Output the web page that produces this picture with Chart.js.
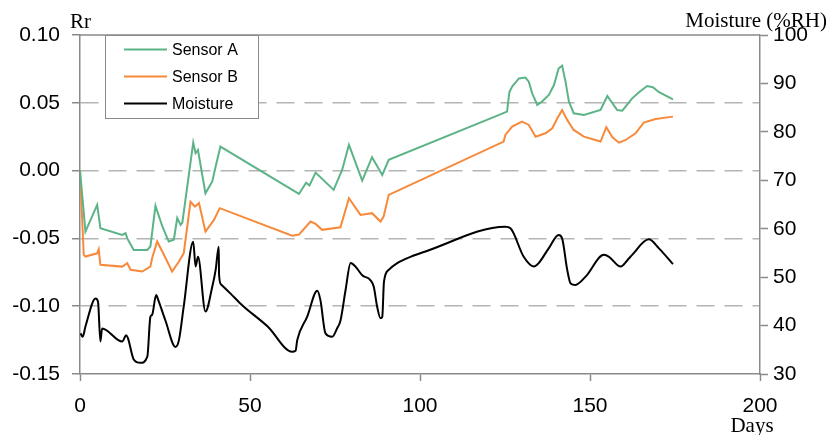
<!DOCTYPE html>
<html>
<head>
<meta charset="utf-8">
<script src="https://cdn.jsdelivr.net/npm/chart.js@4.4.1/dist/chart.umd.min.js"></script>
<style>
  html, body { margin: 0; padding: 0; background: #fff; }
  #wrap { width: 828px; height: 435px; position: relative; }
</style>
</head>
<body>
<div id="wrap"><canvas id="chart"></canvas></div>
<script>
/* ---------------------------------- Data ---------------------------------- */
const daysA = [0, 1.6, 5.05, 6.0, 12.4, 13.4, 13.9, 15.8, 19.8, 20.7, 22.2, 24.2, 26.1, 27.6, 28.6, 29.6, 30.1,
    33.3, 34.0, 34.7, 35.7, 36.9, 38.9, 39.9, 41.3, 64.4, 66.5, 67.5, 69.3, 74.6, 77.1, 79.1, 83.0, 85.9, 88.9,
    90.8, 122.2, 125.6, 126.3, 127.1, 129.1, 131, 132, 133, 134.5, 135.9, 137.9, 139.4, 140.8, 141.8, 142.8,
    143.8, 145.2, 148.2, 153.1, 155.1, 158, 159.5, 162.4, 164.5, 166.8, 168.5, 170.2, 174.4];
const sensorA = [0.0, -0.045, -0.0253, -0.0425, -0.0474, -0.0462, -0.050, -0.0585, -0.0585, -0.056, -0.026,
    -0.041, -0.0523, -0.051, -0.035, -0.040, -0.0383, 0.0206, 0.0128, 0.0152, 0.0005, -0.0167, -0.008, 0.003,
    0.0177, -0.0172, -0.009, -0.011, -0.0015, -0.0142, 0.0005, 0.019, -0.0074, 0.0099, -0.0032, 0.0079, 0.040,
    0.0435, 0.058, 0.062, 0.068, 0.0686, 0.0656, 0.057, 0.0484, 0.0509, 0.0558, 0.0631, 0.0755, 0.0774, 0.0656,
    0.0509, 0.0423, 0.041, 0.0447, 0.055, 0.0447, 0.0442, 0.0533, 0.058, 0.0624, 0.0615, 0.058, 0.0526];

const daysB = [0, 1.1, 1.6, 5.05, 5.5, 6.0, 12.4, 13.9, 14.9, 18.3, 20.7, 21.2, 22.7, 24.2, 27.1, 29.1, 30.5,
    32.5, 33.8, 35.0, 36.9, 39.4, 41.1, 62.4, 64.4, 67.8, 69.3, 71.2, 76.6, 79.1, 82.5, 85.9, 88.4, 89.3, 90.8,
    124.6, 125.1, 127.1, 130, 132, 134, 136.9, 138.9, 140.4, 141.8, 143.3, 145.2, 148.2, 153.1, 154.8, 156.6,
    158.5, 160.5, 163.4, 165.8, 169.3, 174.4];
const sensorB = [0.0, -0.062, -0.0634, -0.061, -0.058, -0.0695, -0.0708, -0.0683, -0.0732, -0.0744, -0.0708,
    -0.0646, -0.0523, -0.0597, -0.0744, -0.067, -0.061, -0.023, -0.0265, -0.024, -0.045, -0.0364, -0.0277,
    -0.048, -0.0472, -0.0376, -0.0393, -0.0437, -0.0418, -0.0204, -0.0327, -0.0314, -0.0376, -0.0339, -0.0179,
    0.0214, 0.0263, 0.0324, 0.0361, 0.0337, 0.025, 0.0275, 0.0312, 0.0386, 0.0447, 0.0374, 0.030, 0.025,
    0.0214, 0.032, 0.0246, 0.0206, 0.0226, 0.0275, 0.0354, 0.0381, 0.0398];

const daysM = [0.15, 0.8, 1.6, 4.6, 5.3, 6.0, 6.5, 12.4, 13.6, 14.1, 15.8, 17.8, 19.8, 20.7, 21.2, 22.4, 23.0,
    25.1, 28.1, 29.1, 30.5, 33.3, 34.0, 34.7, 36.9, 38.9, 39.9, 40.8, 40.9, 41.5, 44.3, 47.7, 55.2, 62.4, 63.4,
    63.9, 66.8, 69.8, 70.7, 72.2, 74.2, 75.6, 76.6, 78.1, 79.6, 81.0, 83.0, 85.4, 86.4, 87.4, 88.4, 88.9, 89.4,
    90.8, 93.3, 97.2, 101.6, 125.1, 126.6, 130.5, 133.5, 134.9, 137.9, 140.8, 141.8, 143.3, 144.3, 145.7, 148.7,
    154.1, 155.6, 159.0, 161.0, 162.4, 167.3, 170.2, 174.4];
const moisture = [38.4, 37.7, 39.8, 45.6, 44.9, 36.7, 39.4, 36.7, 38.0, 37.4, 33.0, 32.3, 33.6, 41.8, 42.2, 46.3,
    45.3, 41.1, 35.6, 37.0, 43.9, 57.3, 52.2, 54.2, 42.9, 48.0, 51.5, 56.3, 50.5, 48.5, 46.6, 44.2, 39.8, 34.6,
    34.8, 37.0, 41.8, 47.2, 45.3, 38.4, 37.7, 39.4, 41.0, 47.3, 52.9, 52.2, 50.4, 49.4, 48.0, 43.9, 41.5, 41.8,
    49.0, 51.5, 52.9, 54.2, 55.3, 60.4, 60.1, 54.2, 52.2, 52.9, 56.0, 58.7, 58.0, 51.5, 48.7, 48.4, 50.1, 54.6,
    54.2, 52.2, 53.5, 54.6, 57.8, 56.0, 52.7];

const xTicks = [0, 50, 100, 150, 200];
const rrTicks = [-0.15, -0.10, -0.05, 0.00, 0.05, 0.10];
const rhTicks = [30, 40, 50, 60, 70, 80, 90, 100];

const toPoints = (xs, ys) => xs.map((x, i) => ({ x, y: ys[i] }));

/* --------------------------------- Styles --------------------------------- */
const GREEN = '#5cb387';
const ORANGE = '#f7893a';
const AXIS = '#8a8a8a';
const SANS = '"Liberation Sans", Arial, sans-serif';
const SERIF = '"Liberation Serif", "Times New Roman", serif';

/* --------------------------------- Plugins -------------------------------- */
const boxLegend = {
    id: 'boxLegend',
    afterDraw(chart) {
        const ctx = chart.ctx;
        const x0 = 105, y0 = 35, w = 153, h = 83;
        ctx.save();
        ctx.fillStyle = '#fff';
        ctx.fillRect(x0, y0, w, h);
        ctx.strokeStyle = AXIS;
        ctx.lineWidth = 1;
        ctx.strokeRect(x0 + 0.5, y0 + 0.5, w, h);
        ctx.font = '16px ' + SANS;
        ctx.textBaseline = 'middle';
        chart.data.datasets.forEach((ds, i) => {
            const y = y0 + 14.5 + i * 27;
            ctx.strokeStyle = ds.borderColor;
            ctx.lineWidth = 2;
            ctx.beginPath();
            ctx.moveTo(x0 + 19, y);
            ctx.lineTo(x0 + 62, y);
            ctx.stroke();
            ctx.fillStyle = '#000';
            ctx.fillText(ds.label, x0 + 67, y + 1);
        });
        ctx.restore();
    }
};

const axisTitles = {
    id: 'axisTitles',
    afterDraw(chart) {
        const ctx = chart.ctx;
        ctx.save();
        ctx.fillStyle = '#000';
        ctx.font = '21px ' + SERIF;
        ctx.textBaseline = 'alphabetic';
        ctx.textAlign = 'left';
        ctx.fillText('Rr', 70, 28);
        ctx.textAlign = 'right';
        ctx.fillText('Moisture (%RH)', 827, 27);
        ctx.textAlign = 'center';
        ctx.fillText('Days', 752, 432);
        ctx.restore();
    }
};

const topFrame = {
    id: 'topFrame',
    beforeDatasetsDraw(chart) {
        const { ctx, chartArea } = chart;
        ctx.save();
        ctx.strokeStyle = AXIS;
        ctx.lineWidth = 1.5;
        ctx.beginPath();
        ctx.moveTo(chartArea.left, chartArea.top);
        ctx.lineTo(chartArea.right, chartArea.top);
        ctx.stroke();
        ctx.restore();
    }
};

/* ---------------------------------- Chart --------------------------------- */
const isEdge = (v) => Math.abs(v - 0.10) < 1e-9 || Math.abs(v + 0.15) < 1e-9;

new Chart(document.getElementById('chart'), {
    type: 'line',
    data: {
        datasets: [
            {
                label: 'Sensor A',
                data: toPoints(daysA, sensorA),
                borderColor: GREEN,
                borderWidth: 2,
                pointRadius: 0,
                tension: 0,
                yAxisID: 'y'
            },
            {
                label: 'Sensor B',
                data: toPoints(daysB, sensorB),
                borderColor: ORANGE,
                borderWidth: 2,
                pointRadius: 0,
                tension: 0,
                yAxisID: 'y'
            },
            {
                label: 'Moisture',
                data: toPoints(daysM, moisture),
                borderColor: '#000',
                borderWidth: 2,
                pointRadius: 0,
                cubicInterpolationMode: 'monotone',
                yAxisID: 'y1'
            }
        ]
    },
    options: {
        responsive: true,
        maintainAspectRatio: false,
        animation: false,
        devicePixelRatio: 1,
        layout: { padding: { top: 35, left: 0, right: 0, bottom: 0 } },
        plugins: {
            legend: { display: false },
            tooltip: { enabled: false }
        },
        scales: {
            x: {
                type: 'linear',
                min: 0,
                max: 200,
                afterBuildTicks: (s) => { s.ticks = xTicks.map(value => ({ value })); },
                afterFit: (s) => { s.height = 61; },
                ticks: { color: '#000', font: { family: SANS, size: 21 }, padding: 13, maxRotation: 0 },
                grid: { drawOnChartArea: false, tickLength: 7, tickColor: AXIS, tickWidth: 1.5 },
                border: { color: AXIS, width: 1.5 }
            },
            y: {
                position: 'left',
                min: -0.15,
                max: 0.10,
                afterBuildTicks: (s) => { s.ticks = rrTicks.map(value => ({ value })); },
                afterFit: (s) => { s.width = 80; },
                ticks: {
                    color: '#000',
                    font: { family: SANS, size: 21 },
                    padding: 12,
                    callback: (v) => Number(v).toFixed(2)
                },
                grid: {
                    color: (c) => isEdge(c.tick.value) ? 'rgba(0,0,0,0)' : '#b4b4b4',
                    lineWidth: 1.5,
                    tickLength: 8,
                    tickColor: AXIS,
                    tickWidth: 1.5
                },
                border: { color: AXIS, width: 1.5, dash: [18, 10] }
            },
            y1: {
                position: 'right',
                min: 30,
                max: 100,
                afterBuildTicks: (s) => { s.ticks = rhTicks.map(value => ({ value })); },
                afterFit: (s) => { s.width = 68; },
                ticks: { color: '#000', font: { family: SANS, size: 21 }, padding: 5 },
                grid: { drawOnChartArea: false, tickLength: 8, tickColor: AXIS, tickWidth: 1.5 },
                border: { color: AXIS, width: 1.5 }
            }
        }
    },
    plugins: [boxLegend, axisTitles, topFrame]
});
</script>
</body>
</html>
